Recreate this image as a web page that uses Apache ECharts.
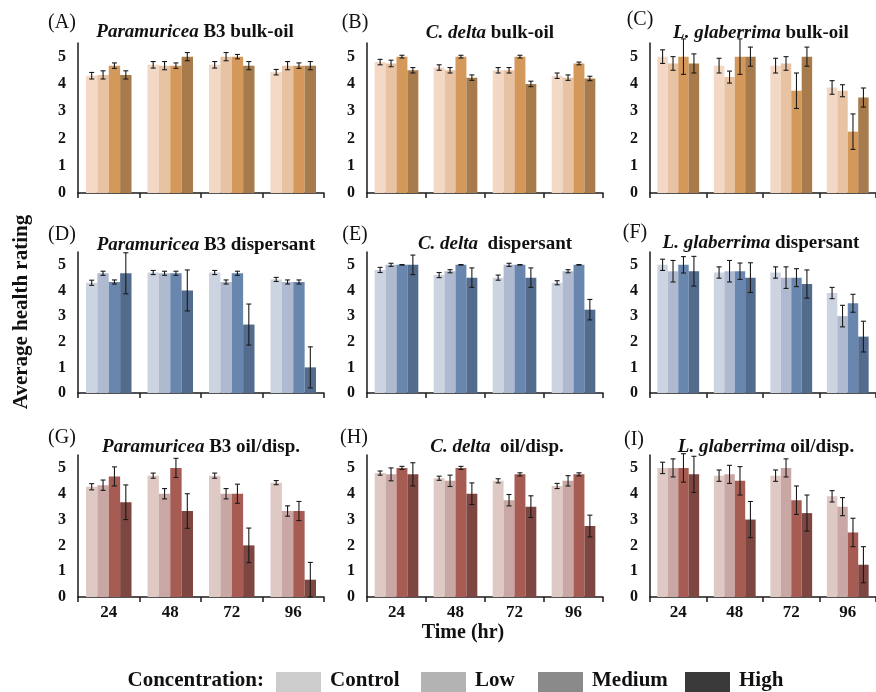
<!DOCTYPE html>
<html>
<head>
<meta charset="utf-8">
<script src="https://cdn.jsdelivr.net/npm/echarts@6/dist/echarts.min.js"></script>
<style>
html,body{margin:0;padding:0;background:#fff;}
#c{width:876px;height:692px;}
</style>
</head>
<body>
<div id="c"></div>
<script>
// ---- data ----
const categories = ['24', '48', '72', '96'];
const concentrations = ['Control', 'Low', 'Medium', 'High'];
const yTicks = [0, 1, 2, 3, 4, 5];

// each array: [Control, Low, Medium, High], each of those across 24/48/72/96 hr
const meanA = [[4.3, 4.7, 4.7, 4.43], [4.33, 4.67, 5.0, 4.67], [4.67, 4.67, 5.0, 4.67], [4.33, 5.0, 4.67, 4.67]];
const errA  = [[0.12, 0.12, 0.12, 0.1], [0.15, 0.15, 0.15, 0.15], [0.1, 0.1, 0.08, 0.1], [0.15, 0.15, 0.15, 0.15]];
const meanB = [[4.8, 4.6, 4.5, 4.3], [4.75, 4.5, 4.5, 4.23], [5.0, 5.0, 5.0, 4.75], [4.5, 4.23, 4.0, 4.2]];
const errB  = [[0.1, 0.1, 0.1, 0.1], [0.12, 0.1, 0.1, 0.1], [0.05, 0.05, 0.05, 0.05], [0.1, 0.1, 0.1, 0.08]];
const meanC = [[5.0, 4.67, 4.67, 3.87], [4.75, 4.25, 4.75, 3.75], [5.0, 5.0, 3.75, 2.25], [4.75, 5.0, 5.0, 3.5]];
const errC  = [[0.25, 0.27, 0.27, 0.25], [0.25, 0.22, 0.25, 0.22], [0.65, 0.65, 0.65, 0.65], [0.35, 0.35, 0.35, 0.35]];
const meanD = [[4.3, 4.7, 4.7, 4.43], [4.67, 4.67, 4.33, 4.33], [4.33, 4.67, 4.67, 4.33], [4.67, 4.0, 2.67, 1.0]];
const errD  = [[0.1, 0.08, 0.08, 0.08], [0.08, 0.08, 0.08, 0.08], [0.08, 0.08, 0.08, 0.08], [0.8, 0.8, 0.8, 0.8]];
const meanE = [[4.8, 4.6, 4.5, 4.3], [5.0, 4.75, 5.0, 4.75], [5.0, 5.0, 5.0, 5.0], [5.0, 4.5, 4.5, 3.25]];
const errE  = [[0.1, 0.1, 0.1, 0.08], [0.06, 0.06, 0.06, 0.06], [0.01, 0.01, 0.01, 0.01], [0.38, 0.38, 0.38, 0.4]];
const meanF = [[5.0, 4.7, 4.7, 3.9], [4.75, 4.75, 4.5, 3.0], [5.0, 4.75, 4.5, 3.5], [4.75, 4.5, 4.25, 2.2]];
const errF  = [[0.22, 0.22, 0.22, 0.22], [0.42, 0.42, 0.42, 0.42], [0.32, 0.32, 0.35, 0.35], [0.58, 0.58, 0.55, 0.6]];
const meanG = [[4.27, 4.7, 4.7, 4.43], [4.33, 4.0, 4.0, 3.33], [4.67, 5.0, 4.0, 3.33], [3.67, 3.33, 2.0, 0.67]];
const errG  = [[0.12, 0.1, 0.1, 0.08], [0.2, 0.2, 0.2, 0.2], [0.37, 0.37, 0.37, 0.37], [0.67, 0.67, 0.67, 0.67]];
const meanH = [[4.8, 4.6, 4.5, 4.3], [4.75, 4.5, 3.75, 4.5], [5.0, 5.0, 4.75, 4.75], [4.75, 4.0, 3.5, 2.75]];
const errH  = [[0.08, 0.08, 0.08, 0.1], [0.25, 0.22, 0.22, 0.2], [0.06, 0.06, 0.06, 0.06], [0.45, 0.42, 0.42, 0.42]];
const meanI = [[5.0, 4.7, 4.7, 3.9], [5.0, 4.75, 5.0, 3.5], [5.0, 4.5, 3.75, 2.5], [4.75, 3.0, 3.25, 1.25]];
const errI  = [[0.22, 0.22, 0.22, 0.22], [0.35, 0.35, 0.35, 0.35], [0.55, 0.55, 0.55, 0.55], [0.7, 0.7, 0.7, 0.7]];

// ---- styling / layout ----
const FONT = '"Liberation Serif", "Times New Roman", serif';
const rowColors = [
  ['#f2d8c5', '#e8c3a3', '#d4985a', '#a77b4b'],
  ['#cdd4e1', '#afbad0', '#6886ae', '#536b8d'],
  ['#dfc9c5', '#c9a7a4', '#a65b53', '#7e4641']
];
const legendColors = ['#cccccc', '#b3b3b3', '#8a8a8a', '#3a3a3a'];
const colLeft = [78, 367, 650];
const colWidth = [246, 236, 234];
const rowTop = [43, 252, 455];
const rowHeight = [150, 141, 142];
const GAP = 0.26;

const panels = [
  {m: meanA, e: errA, letter: '(A)', it: 'Paramuricea', rest: ' B3 bulk-oil', tx: 195, ty: 32, lx: 62, ly: 23},
  {m: meanB, e: errB, letter: '(B)', it: 'C. delta', rest: ' bulk-oil', tx: 490, ty: 33, lx: 355, ly: 23},
  {m: meanC, e: errC, letter: '(C)', it: 'L. glaberrima', rest: ' bulk-oil', tx: 761, ty: 33, lx: 640, ly: 20},
  {m: meanD, e: errD, letter: '(D)', it: 'Paramuricea', rest: ' B3 dispersant', tx: 206, ty: 245, lx: 62, ly: 235},
  {m: meanE, e: errE, letter: '(E)', it: 'C. delta', rest: '  dispersant', tx: 495, ty: 244, lx: 355, ly: 235},
  {m: meanF, e: errF, letter: '(F)', it: 'L. glaberrima', rest: ' dispersant', tx: 761, ty: 243, lx: 635, ly: 233},
  {m: meanG, e: errG, letter: '(G)', it: 'Paramuricea', rest: ' B3 oil/disp.', tx: 201, ty: 447, lx: 62, ly: 438},
  {m: meanH, e: errH, letter: '(H)', it: 'C. delta', rest: '  oil/disp.', tx: 497, ty: 447, lx: 354, ly: 438},
  {m: meanI, e: errI, letter: '(I)', it: 'L. glaberrima', rest: ' oil/disp.', tx: 766, ty: 447, lx: 634, ly: 440}
];

const grid = [], xAxis = [], yAxis = [], series = [], graphic = [];

function errRender(params, api) {
  const cat = api.value(0), si = api.value(1), v = api.value(2), e = api.value(3);
  const band = api.size([1, 0])[0];
  const bw = band * (1 - GAP) / 4;
  const cx = api.coord([cat, 0])[0] + (si - 1.5) * bw;
  const yt = api.coord([cat, v + e])[1];
  const yb = api.coord([cat, Math.max(0, v - e)])[1];
  const cap = 2.5;
  const st = {stroke: '#1a1a1a', lineWidth: 1.1};
  return {type: 'group', children: [
    {type: 'line', shape: {x1: cx, y1: yt, x2: cx, y2: yb}, style: st},
    {type: 'line', shape: {x1: cx - cap, y1: yt, x2: cx + cap, y2: yt}, style: st},
    {type: 'line', shape: {x1: cx - cap, y1: yb, x2: cx + cap, y2: yb}, style: st}
  ]};
}

panels.forEach((p, idx) => {
  const r = Math.floor(idx / 3), c = idx % 3;
  grid.push({left: colLeft[c], top: rowTop[r], width: colWidth[c], height: rowHeight[r], containLabel: false});
  xAxis.push({
    type: 'category', gridIndex: idx, data: categories,
    axisLine: {lineStyle: {color: '#1a1a1a', width: 1.5}},
    axisTick: {show: true, length: 5, lineStyle: {color: '#1a1a1a', width: 1.5}},
    axisLabel: {show: r === 2, margin: 7, color: '#111', fontFamily: FONT, fontWeight: 'bold', fontSize: 17}
  });
  yAxis.push({
    type: 'value', gridIndex: idx, min: 0, max: 5.5, interval: 1,
    splitLine: {show: false},
    axisLine: {show: true, lineStyle: {color: '#1a1a1a', width: 1.5}},
    axisTick: {show: false},
    axisLabel: {margin: 12, color: '#111', fontFamily: FONT, fontWeight: 'bold', fontSize: 16,
      formatter: v => (yTicks.indexOf(v) >= 0 ? String(v) : '')}
  });
  const errData = [];
  concentrations.forEach((name, si) => {
    series.push({
      type: 'bar', name: name, xAxisIndex: idx, yAxisIndex: idx,
      data: p.m[si], barGap: '0%', barCategoryGap: (GAP * 100) + '%',
      itemStyle: {color: rowColors[r][si]}, silent: true, animation: false
    });
    p.m[si].forEach((v, ci) => errData.push([ci, si, v, p.e[si][ci]]));
  });
  series.push({
    type: 'custom', xAxisIndex: idx, yAxisIndex: idx, renderItem: errRender,
    data: errData, encode: {x: 0, y: 2}, z: 10, silent: true, animation: false, clip: false
  });
  graphic.push({type: 'text', x: p.lx, y: p.ly, style: {
    text: p.letter, font: '20px ' + FONT, fill: '#111', align: 'center', verticalAlign: 'middle'}});
  graphic.push({type: 'text', x: p.tx, y: p.ty, style: {
    text: '{i|' + p.it + '}{b|' + p.rest + '}', align: 'center', verticalAlign: 'middle',
    rich: {
      i: {fontFamily: FONT, fontStyle: 'italic', fontWeight: 'bold', fontSize: 19, fill: '#111', color: '#111'},
      b: {fontFamily: FONT, fontWeight: 'bold', fontSize: 19, fill: '#111', color: '#111'}
    }}});
});

// axis titles
graphic.push({type: 'text', x: 22, y: 312, rotation: Math.PI / 2, style: {
  text: 'Average health rating', font: 'bold 21px ' + FONT, fill: '#111', align: 'center', verticalAlign: 'middle'}});
graphic.push({type: 'text', x: 463, y: 633, style: {
  text: 'Time (hr)', font: 'bold 20px ' + FONT, fill: '#111', align: 'center', verticalAlign: 'middle'}});

// legend
const legSwX = [276, 421, 538, 685];
graphic.push({type: 'text', x: 264, y: 681, style: {
  text: 'Concentration:', font: 'bold 21px ' + FONT, fill: '#111', align: 'right', verticalAlign: 'middle'}});
concentrations.forEach((name, i) => {
  graphic.push({type: 'rect', shape: {x: legSwX[i], y: 672, width: 45, height: 22}, style: {fill: legendColors[i]}});
  graphic.push({type: 'text', x: legSwX[i] + 54, y: 681, style: {
    text: name, font: 'bold 21px ' + FONT, fill: '#111', align: 'left', verticalAlign: 'middle'}});
});

const chart = echarts.init(document.getElementById('c'), null, {renderer: 'canvas'});
chart.setOption({
  backgroundColor: '#ffffff',
  animation: false,
  grid: grid, xAxis: xAxis, yAxis: yAxis, series: series, graphic: graphic
});
</script>
</body>
</html>
